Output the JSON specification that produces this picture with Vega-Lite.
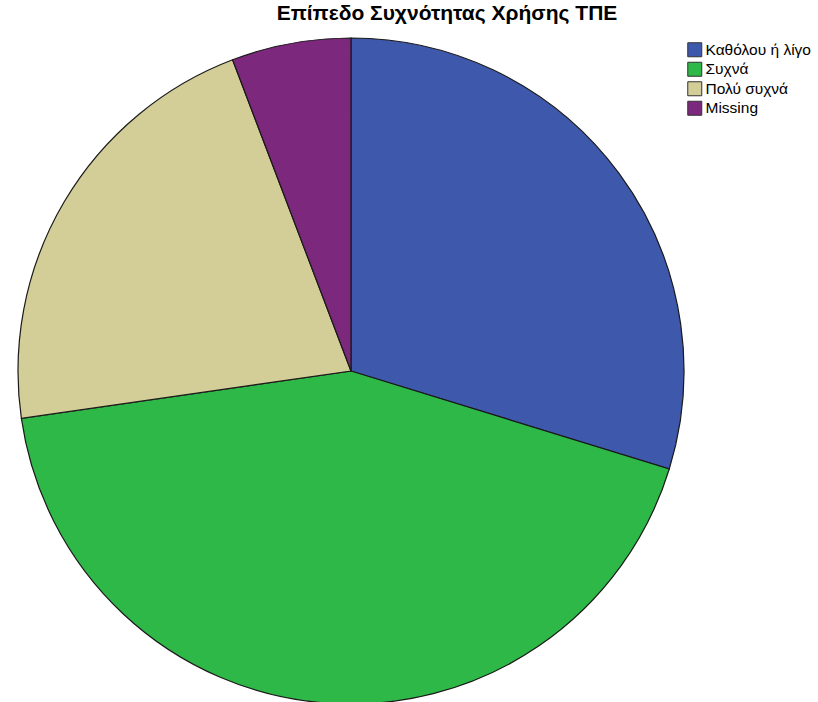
{
  "$schema": "https://vega.github.io/schema/vega-lite/v6.json",
  "width": 702,
  "height": 662,
  "autosize": {"type": "none"},
  "padding": {"top": 40, "left": 0, "right": 116, "bottom": 0},
  "background": "white",
  "title": {
    "text": "Επίπεδο Συχνότητας Χρήσης ΤΠΕ",
    "font": "Liberation Sans",
    "fontSize": 21,
    "fontWeight": "bold",
    "color": "#000000",
    "anchor": "middle",
    "dx": 96,
    "offset": 12
  },
  "data": {
    "values": [
      {"idx": 1, "category": "Καθόλου ή λίγο", "count": 36},
      {"idx": 2, "category": "Συχνά", "count": 52},
      {"idx": 3, "category": "Πολύ συχνά", "count": 26},
      {"idx": 4, "category": "Missing", "count": 7}
    ]
  },
  "mark": {"type": "arc", "outerRadius": 333, "stroke": "#1a1a1a", "strokeWidth": 1.2},
  "encoding": {
    "theta": {"field": "count", "type": "quantitative", "stack": true},
    "order": {"field": "idx", "type": "quantitative"},
    "color": {
      "field": "category",
      "type": "nominal",
      "scale": {
        "domain": ["Καθόλου ή λίγο", "Συχνά", "Πολύ συχνά", "Missing"],
        "range": ["#3E58AC", "#2EB848", "#D3CE97", "#7C287D"]
      },
      "legend": {
        "title": null,
        "orient": "none",
        "legendX": 687,
        "legendY": 2,
        "padding": 0,
        "symbolType": "square",
        "symbolSize": 196,
        "symbolStrokeColor": "#333333",
        "symbolStrokeWidth": 1,
        "labelFont": "Liberation Sans",
        "labelFontSize": 15.5,
        "labelColor": "#000000",
        "labelOffset": 3,
        "labelLimit": 200,
        "rowPadding": 0.5
      }
    }
  }
}
